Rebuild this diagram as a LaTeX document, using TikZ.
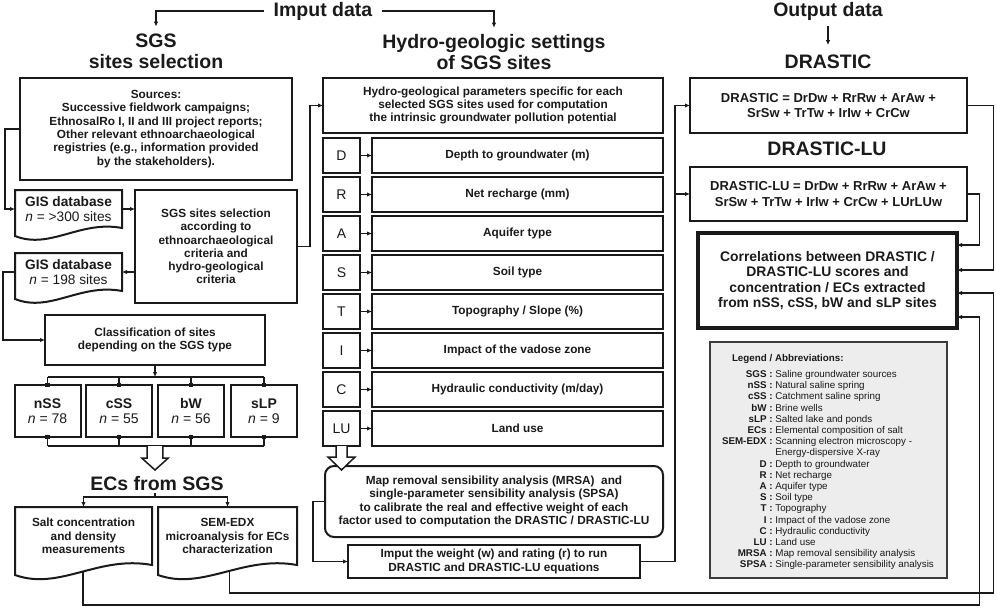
\documentclass[tikz,border=0pt]{standalone}
\usepackage{fontspec}
\setmainfont{Liberation Sans}
\usepackage{array}
\usetikzlibrary{arrows.meta,calc}
\definecolor{ink}{HTML}{1A1A1A}
\definecolor{legfill}{HTML}{EDEDED}
\tikzset{
 box/.style={draw=ink, line width=2pt, inner sep=0pt, outer sep=0pt, align=center, font=\fontsize{11.8}{13.3}\selectfont\bfseries, text=ink},
 plain/.style={draw=none, inner sep=0pt, outer sep=0pt, align=center, text=ink},
 doc/.style={draw=ink, line width=2pt},
 ttl/.style={inner sep=0pt, outer sep=0pt, align=center, font=\fontsize{19.5}{21}\selectfont\bfseries, text=ink},
 arr/.style={draw=ink, line width=1.5pt, -{Latex[length=5pt,width=4.5pt]}},
 ln/.style={draw=ink, line width=1.5pt},
 hollow/.style={draw=ink, line width=1.5pt, fill=white, line join=miter},
 letbox/.style={box, minimum width=37pt, minimum height=35pt, font=\fontsize{14}{15}\selectfont},
 labbox/.style={box, minimum width=291pt, minimum height=35pt},
}
\newcommand\factorrow[4]{%
  \node[letbox] (#1) at (341.5,#4) {#2};
  \node[labbox] (#1t) at (517.5,#4) {#3};
  \draw[arr] (#1) -- (#1t);
}
\begin{document}
\begin{tikzpicture}[x=1pt,y=-1pt]
\useasboundingbox (0,0) rectangle (996,608);

% ---------- titles
\node[ttl, inner xsep=10pt] (imput) at (323,11) {Imput data};
\node[ttl] (sgst) at (156,51) {SGS\\sites selection};
\node[ttl] (hydt) at (494,52.4) {Hydro-geologic settings\\of SGS sites};
\node[ttl] (outt) at (828,11) {Output data};
\node[ttl] (drt) at (828,62) {DRASTIC};
\node[ttl] (dlut) at (827,149) {DRASTIC-LU};
\node[ttl, inner sep=2pt] (ecs) at (157,484) {ECs from SGS};

% ---------- left column
\node[box, minimum width=272pt, minimum height=102pt] (src) at (156,129)
 {Sources:\\Successive fieldwork campaigns;\\EthnosalRo I, II and III project reports;\\Other relevant ethnoarchaeological\\registries (e.g., information provided\\by the stakeholders).};

\node[plain, minimum width=107pt, minimum height=38pt, font=\fontsize{13.7}{15}\selectfont] (gis1) at (68.5,209)
 {\textbf{GIS database}\\\textit{n} = >300 sites};
\draw[doc] (gis1.south east) .. controls +(-42,-8) and +(35,14) .. ($(gis1.south west)+(0,8)$) -- (gis1.north west) -- (gis1.north east) -- cycle;

\node[plain, minimum width=107pt, minimum height=38pt, font=\fontsize{13.7}{15}\selectfont] (gis2) at (68.5,272)
 {\textbf{GIS database}\\\textit{n} = 198 sites};
\draw[doc] (gis2.south east) .. controls +(-42,-8) and +(35,14) .. ($(gis2.south west)+(0,8)$) -- (gis2.north west) -- (gis2.north east) -- cycle;

\node[box, minimum width=162pt, minimum height=113pt] (sel) at (216,246.5)
 {SGS sites selection\\according to\\ethnoarchaeological\\criteria and\\hydro-geological\\criteria};

\node[box, minimum width=220pt, minimum height=50pt] (cls) at (155,340)
 {Classification of sites\\depending on the SGS type};

\node[box, minimum width=66pt, minimum height=52pt, font=\fontsize{14}{15}\selectfont] (nss) at (47.5,411) {\textbf{nSS}\\\textit{n} = 78};
\node[box, minimum width=66pt, minimum height=52pt, font=\fontsize{14}{15}\selectfont] (css) at (119,411) {\textbf{cSS}\\\textit{n} = 55};
\node[box, minimum width=66pt, minimum height=52pt, font=\fontsize{14}{15}\selectfont] (bw) at (191,411) {\textbf{bW}\\\textit{n} = 56};
\node[box, minimum width=66pt, minimum height=52pt, font=\fontsize{14}{15}\selectfont] (slp) at (264,411) {\textbf{sLP}\\\textit{n} = 9};

\node[plain, minimum width=137pt, minimum height=58pt, font=\fontsize{11.8}{13.3}\selectfont\bfseries] (salt) at (83.5,536)
 {Salt concentration\\and density\\measurements};
\draw[doc] (salt.south east) .. controls +(-54,-10) and +(45,16) .. coordinate[pos=0.48] (saltout) ($(salt.south west)+(0,10)$) -- (salt.north west) -- (salt.north east) -- cycle;

\node[plain, minimum width=139pt, minimum height=58pt, font=\fontsize{11.8}{13.3}\selectfont\bfseries] (sem) at (227.5,536)
 {SEM-EDX\\microanalysis for ECs\\characterization};
\draw[doc] (sem.south east) .. controls +(-54,-10) and +(45,16) .. coordinate[pos=0.46] (semout) ($(sem.south west)+(0,10)$) -- (sem.north west) -- (sem.north east) -- cycle;

% ---------- middle column
\node[box, minimum width=340pt, minimum height=55pt] (hyd) at (493,105.5)
 {Hydro-geological parameters specific for each\\selected SGS sites used for computation\\the intrinsic groundwater pollution potential};

\factorrow{d}{D}{Depth to groundwater (m)}{155.5}
\factorrow{r}{R}{Net recharge (mm)}{194.5}
\factorrow{a}{A}{Aquifer type}{233.5}
\factorrow{s}{S}{Soil type}{272.5}
\factorrow{t}{T}{Topography / Slope (\%)}{311.5}
\factorrow{i}{I}{Impact of the vadose zone}{350.5}
\factorrow{c}{C}{Hydraulic conductivity (m/day)}{389.5}
\factorrow{lu}{LU}{Land use}{428.5}

\node[box, rounded corners=9pt, minimum width=338pt, minimum height=71pt] (mrsa) at (494,501.5)
 {Map removal sensibility analysis (MRSA) \ and\\single-parameter sensibility analysis (SPSA)\\to calibrate the real and effective weight of each\\factor used to computation the DRASTIC / DRASTIC-LU};

\node[box, minimum width=292pt, minimum height=33pt] (imp) at (494,561.5)
 {Imput the weight (w) and rating (r) to run\\DRASTIC and DRASTIC-LU equations};

\draw[hollow] ([xshift=-5.5pt]lu.south) -- ++(0,11) -- ++(-8,0) -- ++(13.5,13) -- ++(13.5,-13) -- ++(-8,0) -- ++(0,-11);

% ---------- right column
\node[box, minimum width=277pt, minimum height=55pt, font=\fontsize{13}{15.5}\selectfont\bfseries] (dr) at (828.5,105.5)
 {DRASTIC = DrDw + RrRw + ArAw +\\SrSw + TrTw + IrIw + CrCw};
\node[box, minimum width=277pt, minimum height=54pt, font=\fontsize{13}{15.5}\selectfont\bfseries] (dlu) at (828.5,194)
 {DRASTIC-LU = DrDw + RrRw + ArAw +\\SrSw + TrTw + IrIw + CrCw + LUrLUw};
\node[box, line width=3.6pt, minimum width=259pt, minimum height=95pt, font=\fontsize{13.9}{15.6}\selectfont\bfseries] (corr) at (827.5,280.5)
 {Correlations between DRASTIC /\\DRASTIC-LU scores and\\concentration / ECs extracted\\from nSS, cSS, bW and sLP sites};

\node[box, draw=ink!85, fill=legfill, line width=2pt, minimum width=237pt, minimum height=236pt] (leg) at (828.5,460) {};
\node[plain, anchor=base west, font=\fontsize{9.8}{11.2}\selectfont\bfseries] (legt) at (732,361.5) {Legend / Abbreviations:};
\node[plain, anchor=north west, align=left, font=\fontsize{9.8}{11.2}\selectfont] (legtab) at (722,369.7)
 {\renewcommand{\arraystretch}{1}%
  \begin{tabular}{@{}r@{\ }l@{}}
  \textbf{SGS :} & Saline groundwater sources\\
  \textbf{nSS :} & Natural saline spring\\
  \textbf{cSS :} & Catchment saline spring\\
  \textbf{bW :} & Brine wells\\
  \textbf{sLP :} & Salted lake and ponds\\
  \textbf{ECs :} & Elemental composition of salt\\
  \textbf{SEM-EDX :} & Scanning electron microscopy -\\
   & Energy-dispersive X-ray\\
  \textbf{D :} & Depth to groundwater\\
  \textbf{R :} & Net recharge\\
  \textbf{A :} & Aquifer type\\
  \textbf{S :} & Soil type\\
  \textbf{T :} & Topography\\
  \textbf{I :} & Impact of the vadose zone\\
  \textbf{C :} & Hydraulic conductivity\\
  \textbf{LU :} & Land use\\
  \textbf{MRSA :} & Map removal sensibility analysis\\
  \textbf{SPSA :} & Single-parameter sensibility analysis
  \end{tabular}};

% ---------- connectors
\draw[arr] (imput.west) -| ([yshift=7pt]sgst.north);
\draw[arr] (imput.east) -| ([yshift=7pt]hydt.north);
\draw[arr, shorten <=6pt, shorten >=10pt] (outt.south) -- (drt.north);

\draw[arr] (src.west) -- ++(-15,0) |- (gis1.west);
\draw[arr] (gis1.east) -- (gis1.east -| sel.west);
\draw[arr] (sel.west |- gis2.east) -- (gis2.east);
\draw[arr] (gis2.west) -- ++(-12,0) |- (cls.west);
\draw[arr] (sel.east) -- ++(13,0) |- (hyd.west);

\coordinate (bartop) at (155,377);
\coordinate (barbot) at (155,446);
\draw[arr] (cls.south) -- (bartop);
\draw[ln] (nss.north |- bartop) -- (slp.north |- bartop);
\draw[ln] (nss.south |- barbot) -- (slp.south |- barbot);
\foreach \b in {nss,css,bw,slp}{
  \draw[ln] (\b.north |- bartop) -- (\b.north);
  \draw[ln] (\b.south) -- (\b.south |- barbot);
  \fill[ink] ([xshift=-2.4pt,yshift=-2.4pt]\b.north) rectangle ([xshift=2.4pt,yshift=2.4pt]\b.north);
  \fill[ink] ([xshift=-2.4pt,yshift=-2.4pt]\b.south) rectangle ([xshift=2.4pt,yshift=2.4pt]\b.south);
}
\draw[hollow] ([xshift=-7.8pt]barbot) -- ++(0,12) -- ++(-5.5,0) -- ++(13.3,12) -- ++(13.3,-12) -- ++(-5.5,0) -- ++(0,-12);

\coordinate (ecsbar) at (155,497);
\draw[ln] (ecsbar |- ecs.south) -- (ecsbar);
\draw[arr] (ecsbar) -| (salt.north);
\draw[arr] (ecsbar) -| (sem.north);

\draw[arr] (saltout) |- (979.5,605) |- ([yshift=-36.5pt]corr.east);
\draw[arr] (semout) |- (993.5,593) |- ([yshift=-12.5pt]corr.east);
\draw[arr] (dr.east) -- ++(26.5,0) |- ([yshift=10.5pt]corr.east);
\draw[arr] (dlu.east) -- ++(12.5,0) |- ([yshift=35.5pt]corr.east);

\draw[arr] (imp.east) -| ($(dr.west)+(-15,0)$) -- (dr.west);
\draw[arr] ($(dlu.west)+(-15,0)$) -- (dlu.west);
\draw[arr] (mrsa.west) -- ++(-12,0) |- (imp.west);
\end{tikzpicture}
\end{document}
